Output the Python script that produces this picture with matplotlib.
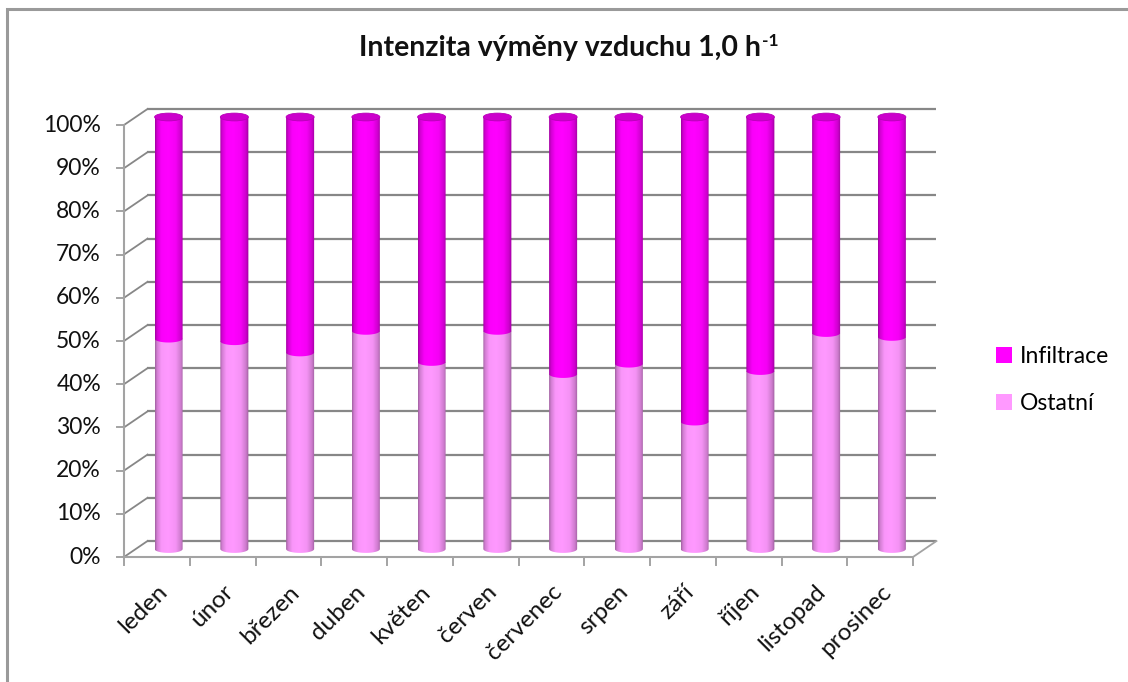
import numpy as np
import matplotlib
matplotlib.use("Agg")
import matplotlib.pyplot as plt
from matplotlib.path import Path
from matplotlib.patches import PathPatch, Ellipse, Rectangle, Patch

plt.rcParams['font.family'] = ['Lato', 'DejaVu Sans']

# ---- data -------------------------------------------------------------
months = ["leden", "únor", "březen", "duben", "květen", "červen",
          "červenec", "srpen", "září", "říjen", "listopad", "prosinec"]
ostatni = [48.7, 48.1, 45.5, 50.5, 43.3, 50.5, 40.5, 42.9, 29.5, 41.2, 50.0, 49.1]
infiltrace = [100 - v for v in ostatni]
series_names = ["Ostatní", "Infiltrace"]
series_colors = ["#FF99FF", "#FF00FF"]
yticks = list(range(0, 101, 10))
title_main = "Intenzita výměny vzduchu 1,0 h"
title_sup = "-1"

# ---- pseudo-3D layout (data units: category index / percent) ----------
DX, DY = 0.357, 3.7          # depth offset of the back wall
BAR_HALF = 0.213             # half width of a cylinder
ELL_H = 0.9                  # half height of the cylinder ellipses
GRID = "#878787"
AXIS = "#A3A3A3"

W, H = 1128, 682
fig = plt.figure(figsize=(W / 100, H / 100), dpi=100)
ax = fig.add_axes([0, 0, 1, 1])
ax.set_axis_off()

n = len(months)

# outer frame of the chart area
fig.patches.append(Rectangle((6.5 / W, -0.05), 1.2, 1 - 8.5 / H + 0.05,
                             transform=fig.transFigure, fill=False,
                             edgecolor="#9A9A9A", lw=2.2, zorder=0))

# back wall gridlines and left side wall diagonals
for v in yticks:
    ax.plot([DX, n + DX], [v + DY, v + DY], color=GRID, lw=1.6,
            solid_capstyle="butt", zorder=1)
    ax.plot([0, DX], [v, v + DY], color=GRID, lw=1.3, zorder=1)
    ax.plot([-0.105, 0], [v, v], color=AXIS, lw=1.4, zorder=1)
    ax.text(-0.35, v, f"{v}%", ha="right", va="center", fontsize=16.5,
            color="#111111")

# floor edges and front axes
ax.plot([n, n + DX], [0, DY], color=AXIS, lw=1.3, zorder=1)
ax.plot([0, n], [0, 0], color=AXIS, lw=1.5, zorder=1)
ax.plot([0, 0], [0, 100], color=AXIS, lw=1.5, zorder=1)
for i in range(n + 1):
    ax.plot([i, i], [0, -1.9], color=AXIS, lw=1.4, zorder=1)

for i, m in enumerate(months):
    ax.text(i + 0.5, -5.6, m, rotation=45, rotation_mode="anchor",
            ha="right", va="top", fontsize=17.5, color="#111111")


def shade(rgb, k=200):
    t = np.linspace(0, 1, k)
    f = np.interp(t, [0, 0.07, 0.22, 0.45, 0.72, 0.9, 1.0],
                  [0.62, 0.82, 0.98, 1.0, 0.96, 0.8, 0.6])
    base = np.array(matplotlib.colors.to_rgb(rgb))
    img = base[None, :] * f[:, None]
    return np.clip(img, 0, 1)[None, :, :]


def segment_path(xc, y0, y1):
    th = np.linspace(np.pi, 2 * np.pi, 40)
    xs = xc + BAR_HALF * np.cos(th)
    ys = y0 + ELL_H * np.sin(th)
    verts = list(zip(xs, ys)) + [(xc + BAR_HALF, y1), (xc - BAR_HALF, y1),
                                 (xs[0], ys[0])]
    codes = [Path.MOVETO] + [Path.LINETO] * (len(verts) - 2) + [Path.CLOSEPOLY]
    return Path(verts, codes)


for i in range(n):
    xc = i + 0.5 + DX / 2
    bottom = DY / 2
    for vals, col in ((ostatni, series_colors[0]), (infiltrace, series_colors[1])):
        top = bottom + vals[i]
        patch = PathPatch(segment_path(xc, bottom, top), facecolor="none",
                          edgecolor="none", transform=ax.transData)
        ax.add_patch(patch)
        im = ax.imshow(shade(col), extent=(xc - BAR_HALF, xc + BAR_HALF,
                                           bottom - ELL_H - 0.1, top + 0.1),
                       aspect="auto", interpolation="bilinear", zorder=3)
        im.set_clip_path(patch)
        bottom = top
    ax.add_patch(Ellipse((xc, bottom), 2 * BAR_HALF, 2 * ELL_H,
                         facecolor="#CC00CC", edgecolor="#B800B8", lw=0.6,
                         zorder=4))

# axis scales: pixel-calibrated limits
ax.set_xlim(-124 / 65.75, (W - 124) / 65.75)
ax.set_ylim((557 - H) / 4.32, 557 / 4.32)

# title with superscript exponent
t_main = fig.text(560 / W, 1 - 48 / H, title_main, ha="center", va="center",
                  fontsize=20.5, fontweight="bold", color="#111111")
fig.canvas.draw()
bb = t_main.get_window_extent()
fig.text((bb.x1 + 1) / W, (bb.y1 + 2) / H, title_sup, ha="left", va="top",
         fontsize=12.5, fontweight="bold", color="#111111")

handles = [Patch(facecolor=series_colors[1]), Patch(facecolor=series_colors[0])]
fig.legend(handles, [series_names[1], series_names[0]], loc="center left",
           bbox_to_anchor=(975 / W, 1 - 380 / H), frameon=False,
           fontsize=16.5, handlelength=0.7, handleheight=0.7,
           handletextpad=0.35, labelspacing=1.1)

fig.savefig("out.png", dpi=100)
